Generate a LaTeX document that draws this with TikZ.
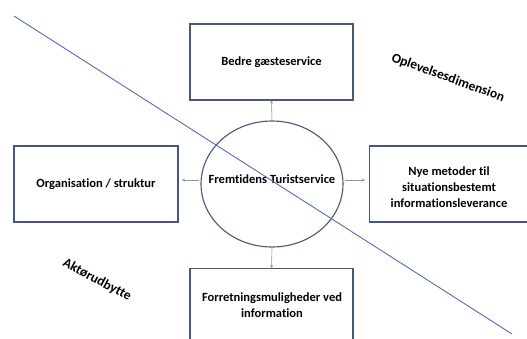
\documentclass[tikz,border=0pt]{standalone}
\usepackage{fontspec}
\setmainfont[Ligatures=NoCommon]{Carlito}
\usetikzlibrary{arrows.meta}
\definecolor{boxc}{RGB}{72,88,120}
\definecolor{linec}{RGB}{80,112,180}
\definecolor{arrc}{RGB}{150,150,150}
\begin{document}
\begin{tikzpicture}[x=1pt,y=-1pt,
  box/.style={draw=boxc,line width=1.3pt,inner sep=0pt,font=\bfseries\fontsize{12.5}{16}\selectfont,align=center},
  lbl/.style={font=\bfseries\fontsize{12.5}{16}\selectfont,align=center},
  rlbl/.style={font=\bfseries\fontsize{13.5}{16}\selectfont},
  conn/.style={draw=arrc,line width=0.6pt,-{Stealth[length=3pt,width=3pt]}}]
\useasboundingbox (0,0) rectangle (527,338);
\clip (0,0) rectangle (527,338);
\fill[white] (0,0) rectangle (527,338);
\node[box,minimum width=163pt,minimum height=76pt] (top) at (271.5,62) {Bedre gæsteservice};
\node[box,minimum width=164pt,minimum height=76pt] (left) at (96,184) {Organisation / struktur};
\node[box,minimum width=170pt,minimum height=76pt,anchor=west] (right) at (369,184) {};
\node[lbl] at (449,187) {Nye metoder til\\situationsbestemt\\informationsleverance};
\node[box,minimum width=163pt,minimum height=90pt,anchor=north] (bot) at (271.5,268) {};
\node[lbl] at (272,305) {Forretningsmuligheder ved\\information};
\draw[boxc,line width=1.1pt] (272,184) ellipse [x radius=71, y radius=63];
\node[lbl] (mid) at (272,179) {Fremtidens Turistservice};
\coordinate (et) at (272,121);
\coordinate (eb) at (272,247);
\coordinate (el) at (199,180);
\coordinate (er) at (345,180);
\coordinate (al) at (182,180);
\coordinate (ar) at (365,180);
\draw[conn] (et) -- (top.south);
\draw[conn] (eb) -- (bot.north);
\draw[conn] (el) -- (al);
\draw[conn] (er) -- (ar);
\coordinate (d1) at (14,16);
\coordinate (d2) at (512,334);
\draw[linec,line width=0.9pt] (d1) -- (d2);
\node[rlbl,rotate=-20] at (448,78) {Oplevelsesdimension};
\node[rlbl,rotate=-28] at (97,280) {Aktørudbytte};
\end{tikzpicture}
\end{document}
